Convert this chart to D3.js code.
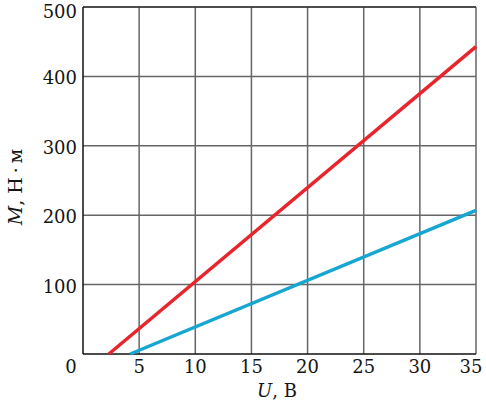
<!DOCTYPE html>
<html lang="ru">
<head>
<meta charset="UTF-8">
<title>M(U)</title>
<script src="https://d3js.org/d3.v7.min.js"></script>
<style>
  body { margin: 0; background: #fff; }
  text { font-family: "DejaVu Serif", serif; fill: #151515; }
</style>
</head>
<body>
<svg id="chart" width="486" height="402"></svg>
<script>
// data: U in volts, M in N·m
const redU = [2.3, 35];
const redM = [0, 443];
const blueU = [4.2, 35];
const blueM = [0, 207];
const xTicks = [5, 10, 15, 20, 25, 30, 35];
const yTicks = [100, 200, 300, 400, 500];

const margin = {top: 7, right: 10, bottom: 48, left: 83},
      w = 486 - margin.left - margin.right,
      h = 402 - margin.top - margin.bottom;

const svg = d3.select("#chart");
const g = svg.append("g").attr("transform", `translate(${margin.left},${margin.top})`);

const x = d3.scaleLinear().domain([0, 35]).range([0, w]);
const y = d3.scaleLinear().domain([0, 500]).range([h, 0]);

// grid
g.selectAll("line.vg")
  .data(xTicks)
  .enter().append("line")
  .attr("x1", d => x(d)).attr("x2", d => x(d))
  .attr("y1", 0).attr("y2", h)
  .attr("stroke", "#666").attr("stroke-width", 1.5);
g.selectAll("line.hg")
  .data(yTicks)
  .enter().append("line")
  .attr("x1", 0).attr("x2", w)
  .attr("y1", d => y(d)).attr("y2", d => y(d))
  .attr("stroke", "#666").attr("stroke-width", 1.5);

// frame (left + bottom + top)
g.append("line").attr("x1", 0).attr("x2", 0).attr("y1", 0).attr("y2", h)
  .attr("stroke", "#111").attr("stroke-width", 1.5);
g.append("line").attr("x1", 0).attr("x2", w).attr("y1", h).attr("y2", h)
  .attr("stroke", "#111").attr("stroke-width", 1.5);
g.append("line").attr("x1", 0).attr("x2", w).attr("y1", 0).attr("y2", 0)
  .attr("stroke", "#111").attr("stroke-width", 1.2);

// lines
const line = d3.line().x(d => x(d[0])).y(d => y(d[1]));
g.append("path")
  .datum(redU.map((u, i) => [u, redM[i]]))
  .attr("d", line)
  .attr("fill", "none").attr("stroke", "#e8242c").attr("stroke-width", 3.5);
g.append("path")
  .datum(blueU.map((u, i) => [u, blueM[i]]))
  .attr("d", line)
  .attr("fill", "none").attr("stroke", "#17a6d2").attr("stroke-width", 3.5);

// tick labels
g.selectAll("text.xt")
  .data(xTicks)
  .enter().append("text")
  .attr("x", d => d === 35 ? x(d) - 5 : x(d))
  .attr("y", h + 19)
  .attr("text-anchor", "middle")
  .attr("font-size", 18)
  .text(d => d);
g.append("text")
  .attr("x", -12).attr("y", h + 19)
  .attr("text-anchor", "middle").attr("font-size", 18)
  .text("0");
g.selectAll("text.yt")
  .data(yTicks)
  .enter().append("text")
  .attr("x", -6)
  .attr("y", d => Math.max(y(d) + 8, 11))
  .attr("text-anchor", "end")
  .attr("font-size", 18)
  .text(d => d);

// axis titles
const xt = svg.append("text")
  .attr("x", 277).attr("y", 397)
  .attr("text-anchor", "middle").attr("font-size", 18);
xt.append("tspan").attr("font-style", "italic").text("U");
xt.append("tspan").text(", В");

const yt = svg.append("text")
  .attr("transform", "translate(22,187) rotate(-90)")
  .attr("text-anchor", "middle").attr("font-size", 19);
yt.append("tspan").attr("font-style", "italic").text("M");
yt.append("tspan").text(", Н\u2009·\u2009м");
</script>
</body>
</html>
